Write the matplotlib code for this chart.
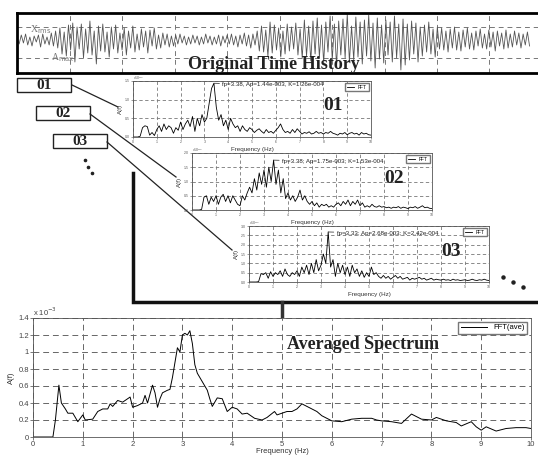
import numpy as np
import matplotlib
matplotlib.use("Agg")
import matplotlib.pyplot as plt

plt.rcParams["font.family"] = ["Liberation Sans", "DejaVu Sans"]

W, H = 538, 455

# ---- data (amplitudes in units of 1e-3) ----
time_signal = [
    0.2, -0.4, 0.5, -0.3, 0.6, -0.5, 0.3, -0.6, 0.4, -0.2, 0.5, -0.7, 0.6, -0.4, 0.3, -0.5, 0.7, -0.6, 0.9, -0.8,
    1.2, -1.4, 0.8, -1.6, 1.5, -1.0, 1.7, -2.2, 1.3, -0.9, 1.6, -1.8, 1.1, -1.3, 1.9, -1.5, 0.9, -2.4, 1.4, -1.1,
    1.6, -1.2, 0.8, -1.7, 1.3, -0.9, 1.5, -1.3, 0.7, -1.0, 1.2, -1.5, 0.9, -0.8, 1.4, -1.2, 0.6, -1.0, 1.1, -0.7,
    0.9, -1.3, 1.0, -0.6, 1.2, -0.9, 0.5, -0.8, 0.7, -0.5, 0.6, -0.7, 0.4, -0.6, 0.5, -0.4, 0.6, -0.3, 0.4, -0.5,
    0.3, -0.4, 0.5, -0.3, 0.4, -0.5, 0.3, -0.4, 0.6, -0.3, 0.4, -0.5, 0.3, -0.4, 0.5, -0.6, 0.4, -0.3, 0.5, -0.4,
    0.6, -0.5, 0.4, -0.7, 0.5, -0.4, 0.7, -0.6, 0.5, -0.8, 0.6, -0.5, 0.9, -1.1, 1.4, -1.2, 1.0, -1.6, 1.8, -1.3,
    1.5, -1.0, 1.2, -1.7, 0.9, -1.4, 1.6, -1.1, 1.3, -0.9, 1.7, -1.5, 1.1, -1.8, 2.0, -1.6, 1.4, -2.1, 1.9, -1.4,
    2.2, -1.7, 1.5, -2.3, 1.8, -1.2, 2.4, -2.0, 1.6, -2.6, 1.9, -1.5, 2.1, -1.8, 2.6, -2.2, 1.4, -2.0, 2.3, -1.7,
    1.8, -2.4, 2.0, -1.6, 2.5, -2.1, 1.7, -2.8, 2.2, -1.9, 1.5, -2.3, 2.0, -1.5, 1.8, -2.2, 2.4, -1.8, 1.6, -3.0,
    2.1, -2.5, 1.6, -2.0, 1.9, -1.4, 1.7, -2.2, 1.3, -1.6, 1.5, -1.2, 1.8, -1.4, 1.1, -1.7, 1.3, -0.9, 1.2, -1.0,
    0.9, -1.2, 1.1, -0.8, 1.3, -1.0, 0.8, -1.1, 1.0, -0.7, 1.2, -0.9, 0.7, -1.0, 0.9, -0.6, 1.1, -0.8, 0.6, -0.9,
    1.0, -0.7, 0.8, -1.1, 0.9, -0.6, 0.7, -0.9, 1.0, -0.8, 0.6, -0.7, 0.9, -0.5, 0.7, -0.8, 0.6, -0.5, 0.8, -0.6,
]

freq_seg = np.arange(0, 101) / 10.0

fft_01 = [
    0.0, 0.0, 0.0, 0.02, 0.25, 0.3, 0.28, 0.05, 0.12, 0.04,
    0.2, 0.3, 0.15, 0.35, 0.2, 0.3, 0.25, 0.1, 0.25, 0.18,
    0.4, 0.2, 0.35, 0.45, 0.28, 0.55, 0.15, 0.5, 0.3, 0.6,
    0.4, 0.5, 0.9, 1.3, 1.44, 0.8, 0.45, 0.6, 0.3, 0.45,
    0.2, 0.5, 0.35, 0.25, 0.3, 0.15, 0.3, 0.2, 0.15, 0.25,
    0.2, 0.12, 0.18, 0.22, 0.15, 0.1, 0.2, 0.12, 0.15, 0.1,
    0.18, 0.25, 0.35, 0.2, 0.12, 0.15, 0.1, 0.2, 0.12, 0.22,
    0.15, 0.08, 0.12, 0.1, 0.14, 0.08, 0.1, 0.15, 0.1, 0.12,
    0.08, 0.12, 0.1, 0.15, 0.1, 0.08, 0.05, 0.1, 0.08, 0.12,
    0.06, 0.1, 0.12, 0.08, 0.1, 0.05, 0.12, 0.08, 0.1, 0.06,
    0.05,
]

fft_02 = [
    0.0, 0.0, 0.0, 0.0, 0.02, 0.45, 0.5, 0.2, 0.45, 0.3,
    0.5, 0.2, 0.45, 0.55, 0.3, 0.5, 0.25, 0.5, 0.35, 0.2,
    0.15, 0.5, 0.35, 0.6, 0.8, 0.6, 1.1, 0.7, 1.3, 0.9,
    1.4, 0.8, 1.5, 1.0, 1.75, 0.9, 1.4, 0.6, 1.1, 0.4,
    0.6, 0.35, 0.5, 0.3, 0.45, 0.7, 0.35, 0.5, 0.3, 0.2,
    0.3, 0.15, 0.25, 0.1, 0.2, 0.15, 0.2, 0.1, 0.15, 0.1,
    0.2, 0.25, 0.15, 0.3, 0.2, 0.35, 0.15, 0.3, 0.2, 0.35,
    0.15, 0.25, 0.1, 0.15, 0.1, 0.2, 0.12, 0.1, 0.15, 0.1,
    0.12, 0.08, 0.1, 0.06, 0.1, 0.08, 0.12, 0.06, 0.1, 0.08,
    0.05, 0.1, 0.08, 0.12, 0.06, 0.1, 0.15, 0.08, 0.1, 0.06,
    0.05,
]

fft_03 = [
    0.0, 0.0, 0.0, 0.0, 0.02, 0.45, 0.4, 0.5, 0.2, 0.55,
    0.3, 0.5, 0.4, 0.6, 0.3, 0.7, 0.4, 0.3, 0.5, 0.4,
    0.6, 0.3, 0.8, 0.5, 0.9, 0.4, 1.0, 0.5, 1.2, 0.6,
    0.9, 1.5, 1.0, 2.68, 0.8, 1.2, 0.3, 1.0, 0.5, 0.9,
    0.4, 0.8, 0.3, 0.9, 0.5, 0.7, 0.3, 0.6, 0.25, 0.5,
    0.3, 0.8, 0.4, 0.5, 0.3, 0.2, 0.35, 0.2, 0.3, 0.15,
    0.25, 0.35, 0.2, 0.3, 0.15, 0.2, 0.25, 0.1, 0.2, 0.15,
    0.2, 0.25, 0.15, 0.2, 0.1, 0.15, 0.2, 0.1, 0.15, 0.12,
    0.1, 0.15, 0.1, 0.12, 0.08, 0.15, 0.1, 0.12, 0.08, 0.1,
    0.12, 0.08, 0.1, 0.15, 0.1, 0.08, 0.12, 0.1, 0.15, 0.1,
    0.08,
]

freq_ave = [0.0, 0.4, 0.45, 0.52, 0.57, 0.65, 0.7, 0.8, 0.9, 1.0, 1.05, 1.2, 1.3, 1.4, 1.5, 1.55, 1.6,
            1.7, 1.8, 1.9, 1.95, 2.0, 2.1, 2.2, 2.25, 2.3, 2.4, 2.45, 2.5, 2.55, 2.6, 2.7, 2.75,
            2.8, 2.9, 2.95, 3.0, 3.05, 3.1, 3.15, 3.2, 3.25, 3.3, 3.4, 3.5, 3.55, 3.6, 3.7, 3.8,
            3.9, 4.0, 4.1, 4.2, 4.3, 4.45, 4.6, 4.7, 4.85, 4.9, 5.0, 5.1, 5.2, 5.3, 5.4, 5.5,
            5.6, 5.7, 5.8, 5.9, 6.0, 6.2, 6.4, 6.6, 6.8, 6.9, 7.0, 7.2, 7.4, 7.6, 7.7, 7.8,
            8.0, 8.1, 8.3, 8.5, 8.6, 8.8, 8.9, 9.0, 9.1, 9.3, 9.5, 9.7, 9.9, 10.0]
fft_ave = [0.0, 0.0, 0.2, 0.61, 0.4, 0.33, 0.28, 0.28, 0.18, 0.26, 0.2, 0.21, 0.3, 0.33, 0.33, 0.39, 0.36,
           0.43, 0.41, 0.45, 0.47, 0.35, 0.37, 0.4, 0.49, 0.4, 0.61, 0.52, 0.35, 0.45, 0.52, 0.55, 0.56,
           0.7, 1.05, 1.0, 1.2, 1.22, 1.2, 1.25, 1.1, 0.85, 0.75, 0.65, 0.55, 0.45, 0.36, 0.46, 0.45,
           0.3, 0.35, 0.33, 0.27, 0.28, 0.22, 0.2, 0.23, 0.3, 0.26, 0.28, 0.3, 0.3, 0.33, 0.39, 0.36,
           0.33, 0.3, 0.25, 0.22, 0.19, 0.18, 0.21, 0.22, 0.22, 0.2, 0.19, 0.18, 0.16, 0.27, 0.24, 0.21,
           0.2, 0.23, 0.19, 0.17, 0.13, 0.18, 0.12, 0.08, 0.12, 0.07, 0.1, 0.11, 0.11, 0.1]

segments = [
    ("01", fft_01, 1.5, "fp=3.38, Ap=1.44e-003, K=1.26e-004"),
    ("02", fft_02, 2.0, "fp=3.38; Ap=1.75e-003; K=1.53e-004"),
    ("03", fft_03, 3.0, "fp=3.33; Ap=2.68e-003; K=2.42e-004"),
]


def px_axes(left, top, right, bottom, **kw):
    return fig.add_axes([left / W, 1 - bottom / H, (right - left) / W, (bottom - top) / H], **kw)


fig = plt.figure(figsize=(W / 100, H / 100), dpi=100)
fig.patch.set_facecolor("white")

# ---- original time history ----
ax_t = px_axes(17, 13, 542, 73)
t = np.arange(len(time_signal))
ax_t.plot(t, time_signal, color="#555555", lw=0.6)
ax_t.set_xlim(0, len(time_signal) * 1.02)
ax_t.set_ylim(-3.3, 2.7)
ax_t.set_xticks(np.linspace(0, len(time_signal) * 1.02, 11)[1:])
ax_t.set_yticks([1.3, -1.8])
ax_t.grid(True, ls=(0, (5, 4)), color="#777777", lw=0.7)
ax_t.tick_params(length=0, labelbottom=False, labelleft=False)
for s in ax_t.spines.values():
    s.set_linewidth(2)
ax_t.text(0.025, 0.83, "X$_{\\rm rms}$", transform=ax_t.transAxes, fontsize=7,
          family="Liberation Serif", color="#777777", va="top")
ax_t.text(0.065, 0.25, "A$_{\\rm max}$", transform=ax_t.transAxes, fontsize=7,
          family="Liberation Serif", color="#777777", va="center")
ax_t.text(0.49, 0.14, "Original Time History", transform=ax_t.transAxes, fontsize=13,
          family="Liberation Serif", weight="bold", color="#222222", ha="center", va="center")

# ---- segment spectra ----
seg_boxes = [(133, 81, 371, 137), (192, 153, 432, 210), (249, 226, 489, 282)]
big_label_pos = [(0.84, 0.56), (0.84, 0.55), (0.84, 0.55)]
for (name, vals, ymax, note), box, lp in zip(segments, seg_boxes, big_label_pos):
    ax = px_axes(*box)
    ax.plot(freq_seg, vals, color="black", lw=0.6, label="FFT")
    ax.set_xlim(0, 10)
    ax.set_ylim(0, ymax)
    ax.set_xticks(range(0, 11))
    ax.set_yticks(np.arange(0, ymax + 0.01, 0.5))
    ax.grid(True, ls=(0, (4, 3)), color="#777777", lw=0.6)
    ax.tick_params(labelsize=2.5, length=1.5, width=0.4, pad=1, colors="#555555")
    for s in ax.spines.values():
        s.set_linewidth(0.6)
        s.set_color("#555555")
    ax.set_xlabel("Frequency (Hz)", fontsize=4.5, labelpad=1.5, color="#333333")
    ax.set_ylabel("A(f)", fontsize=4.5, labelpad=1, color="#333333")
    ax.text(0, 1.01, "x10$^{-3}$", transform=ax.transAxes, fontsize=2.5, color="#555555")
    ip = int(np.argmax(vals))
    ax.annotate(note, xy=(freq_seg[ip], vals[ip]), xytext=(6, -1), textcoords="offset points",
                fontsize=4.4, va="center", color="#222222",
                arrowprops=dict(arrowstyle="-", lw=0.5, color="#222222", shrinkA=0, shrinkB=0))
    ax.legend(loc="upper right", fontsize=3.5, handlelength=1.5, fancybox=False,
              edgecolor="#777777", borderpad=0.3, framealpha=1)
    ax.text(lp[0], lp[1], name, transform=ax.transAxes, fontsize=14, family="Liberation Serif",
            weight="bold", color="#222222", ha="center", va="center")

# ---- averaged spectrum ----
ax_b = px_axes(33, 318, 531, 437)
ax_b.plot(freq_ave, fft_ave, color="black", lw=0.7, label="FFT(ave)")
ax_b.set_xlim(0, 10)
ax_b.set_ylim(0, 1.4)
ax_b.set_xticks(range(0, 11))
ax_b.set_yticks(np.arange(0, 1.41, 0.2))
ax_b.set_yticklabels(["0", "0.2", "0.4", "0.6", "0.8", "1", "1.2", "1.4"])
ax_b.grid(True, ls=(0, (6, 4)), color="#666666", lw=0.7)
ax_b.tick_params(labelsize=5.5, length=2, width=0.5, pad=1, colors="#444444")
for s in ax_b.spines.values():
    s.set_linewidth(0.6)
    s.set_color("#555555")
ax_b.set_xlabel("Frequency (Hz)", fontsize=5.5, labelpad=0, color="#333333")
ax_b.set_ylabel("A(f)", fontsize=5.5, labelpad=2, color="#333333")
ax_b.text(0, 1.015, "x 10$^{-3}$", transform=ax_b.transAxes, fontsize=5.5, color="#444444")
ax_b.legend(loc="upper right", fontsize=5.5, handlelength=3.5, fancybox=False,
            edgecolor="#777777", borderpad=0.3, framealpha=1)
ax_b.text(0.51, 0.78, "Averaged Spectrum", transform=ax_b.transAxes, fontsize=13,
          family="Liberation Serif", weight="bold", color="#222222", ha="left", va="center")

# ---- overlay: boxes, leader lines, bracket ----
ov = px_axes(0, 0, W, H)
ov.set_xlim(0, W)
ov.set_ylim(H, 0)
ov.axis("off")
ov.set_zorder(-1)
ov.patch.set_alpha(0)

label_boxes = [(17, 78, "01"), (36, 106, "02"), (53, 134, "03")]
for x0, y0, name in label_boxes:
    ov.add_patch(plt.Rectangle((x0, y0), 54, 14, fill=False, lw=1.0, ec="#222222"))
    ov.text(x0 + 27, y0 + 7.5, name, fontsize=11, family="Liberation Serif", weight="bold",
            ha="center", va="center", color="#222222")

leaders = [((72, 85), (118, 107)), ((90, 114), (176, 177)), ((107, 142), (232, 250))]
for (xa, ya), (xb, yb) in leaders:
    ov.plot([xa, xb], [ya, yb], color="#222222", lw=0.9)

ov.plot([133, 133, 536], [173, 302, 302], color="#111111", lw=2.5, solid_joinstyle="miter")
ov.plot([282, 282], [302, 317], color="#333333", lw=2.5)

ov.plot([85, 88, 92], [160, 167, 173], ls="none", marker="o", ms=1.6, color="#222222")
ov.plot([503, 513, 523], [277, 282, 287], ls="none", marker="o", ms=2.2, color="#222222")

fig.savefig("out.png", dpi=100)
